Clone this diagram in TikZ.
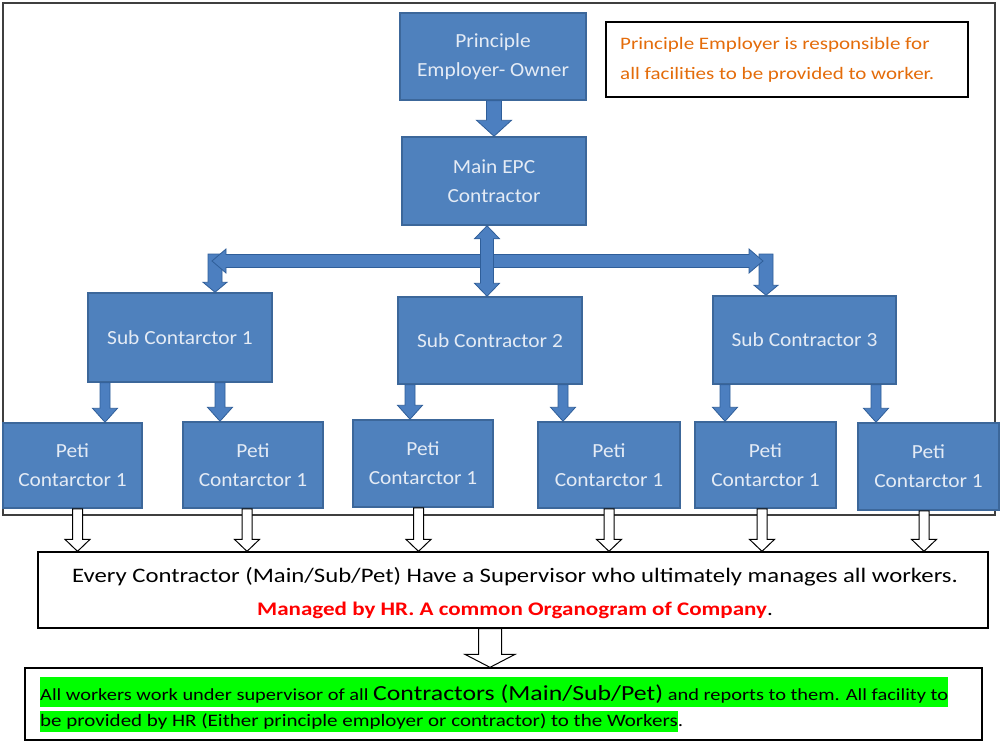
\documentclass[tikz,border=0pt]{standalone}
\usepackage{fontspec}
\setmainfont{Carlito}[FakeStretch=1.2]
\newfontfamily\boxfont{Carlito}[FakeStretch=1.07]
\usetikzlibrary{calc}
\definecolor{boxblue}{HTML}{4F81BD}
\definecolor{boxedge}{HTML}{3C679A}
\definecolor{boxtext}{HTML}{E4EBF5}
\definecolor{arrowblue}{HTML}{4C7FC0}
\definecolor{arrowedge}{HTML}{2F5E99}
\definecolor{noteorange}{HTML}{E46C0A}
\definecolor{framegray}{HTML}{3F3F3F}
\definecolor{hlgreen}{HTML}{00FF00}
\definecolor{hrred}{HTML}{FF0000}
\begin{document}
\begin{tikzpicture}[x=1pt,y=-1pt,
  bbox/.style={draw=boxedge, line width=1.5pt, fill=boxblue, text=boxtext, inner sep=0pt, align=center, font=\boxfont\fontsize{20}{29}\selectfont},
  plainbox/.style={draw=black, line width=1.3pt, fill=white, inner sep=0pt},
  barrow/.style={fill=arrowblue, draw=arrowedge, line width=0.8pt},
  warrow/.style={fill=white, draw=black, line width=1pt},
  vdown/.style n args={3}{to path={let \p1=(\tikztostart), \p2=(\tikztotarget) in
     (\x1-#1pt,\y1) -- (\x1+#1pt,\y1) -- (\x1+#1pt,\y2+#3pt) -- (\x1+#2pt,\y2+#3pt) -- (\x1,\y2)
     -- (\x1-#2pt,\y2+#3pt) -- (\x1-#1pt,\y2+#3pt) -- cycle}},
  vboth/.style n args={3}{to path={let \p1=(\tikztostart), \p2=(\tikztotarget) in
     (\x1,\y1) -- (\x1+#2pt,\y1-#3pt) -- (\x1+#1pt,\y1-#3pt) -- (\x1+#1pt,\y2+#3pt) -- (\x1+#2pt,\y2+#3pt)
     -- (\x1,\y2) -- (\x1-#2pt,\y2+#3pt) -- (\x1-#1pt,\y2+#3pt) -- (\x1-#1pt,\y1-#3pt) -- (\x1-#2pt,\y1-#3pt) -- cycle}},
  hboth/.style n args={3}{to path={let \p1=(\tikztostart), \p2=(\tikztotarget) in
     (\x1,\y1) -- (\x1+#3pt,\y1+#2pt) -- (\x1+#3pt,\y1+#1pt) -- (\x2-#3pt,\y1+#1pt) -- (\x2-#3pt,\y1+#2pt)
     -- (\x2,\y1) -- (\x2-#3pt,\y1-#2pt) -- (\x2-#3pt,\y1-#1pt) -- (\x1+#3pt,\y1-#1pt) -- (\x1+#3pt,\y1-#2pt) -- cycle}}
]
\useasboundingbox (0,0) rectangle (1000,744);
\fill[white] (0,0) rectangle (1000,744);

% outer frame
\draw[framegray, line width=2pt] (3,3) rectangle (995,515);

% blue boxes
\node[bbox, minimum width=186pt, minimum height=87pt] (pe) at (493,56.5) {Principle\\Employer- Owner};
\node[bbox, minimum width=184pt, minimum height=88pt] (epc) at (494,181) {Main EPC\\Contractor};
\node[bbox, minimum width=184pt, minimum height=89pt] (s1) at (180,337.5) {Sub Contarctor 1};
\node[bbox, minimum width=184pt, minimum height=87pt] (s2) at (490,340.5) {Sub Contractor 2};
\node[bbox, minimum width=183pt, minimum height=88pt] (s3) at (804.5,340) {Sub Contractor 3};
\node[bbox, minimum width=139pt, minimum height=85pt] (p1) at (72.5,465.5) {Peti\\Contarctor 1};
\node[bbox, minimum width=140pt, minimum height=86pt] (p2) at (253,465) {Peti\\Contarctor 1};
\node[bbox, minimum width=140pt, minimum height=87pt] (p3) at (423,463.5) {Peti\\Contarctor 1};
\node[bbox, minimum width=142pt, minimum height=86pt] (p4) at (609,465) {Peti\\Contarctor 1};
\node[bbox, minimum width=141pt, minimum height=86pt] (p5) at (765.5,465) {Peti\\Contarctor 1};
\node[bbox, minimum width=141pt, minimum height=87pt] (p6) at (928.5,466.5) {Peti\\Contarctor 1};

% note box
\node[plainbox, line width=1.2pt, minimum width=362pt, minimum height=75pt] (note) at (787,59.5) {};
\node[anchor=west, inner sep=0pt, text=noteorange, font=\fontsize{17.5}{30}\selectfont, align=left] (notetext) at (620,59.5)
  {Principle Employer is responsible for\\all facilities to be provided to worker.};

% blue arrows
\draw[barrow, vdown={7.5}{17.5}{16}] ([xshift=1pt]pe.south) to (epc.north);
\coordinate (dropL) at (215,254);
\coordinate (dropR) at (766,254);
\draw[barrow, vdown={7}{12}{10}] (dropL) to (s1.north);
\draw[barrow, vdown={7}{12}{10}] (dropR) to (s3.north);
\coordinate (barL) at (212,261);
\coordinate (barR) at (763,261);
\draw[barrow, hboth={6.5}{12}{14}] (barL) to (barR);
\draw[barrow, vboth={6.5}{12.5}{13}] ([xshift=-7pt]epc.south) to (s2.north);
\draw[barrow, vdown={5}{12.5}{14}] ([xshift=-75pt]s1.south) to (p1.north);
\draw[barrow, vdown={5}{12.5}{14}] ([xshift=40pt]s1.south) to (p2.north);
\draw[barrow, vdown={5}{12.5}{14}] ([xshift=-80pt]s2.south) to (p3.north);
\draw[barrow, vdown={5}{12.5}{14}] ([xshift=73pt]s2.south) to (p4.north);
\draw[barrow, vdown={5}{12.5}{14}] ([xshift=-79.5pt]s3.south) to (p5.north);
\draw[barrow, vdown={5}{12.5}{14}] ([xshift=71.5pt]s3.south) to (p6.north);

% lower boxes
\node[plainbox, minimum width=950pt, minimum height=76pt] (b1) at (513,590) {};
\node[inner sep=0pt, font=\fontsize{20.6}{25}\selectfont] (b1l1) at (515,577)
  {Every Contractor (Main/Sub/Pet) Have a Supervisor who ultimately manages all workers.};
\node[inner sep=0pt, font=\fontsize{19.2}{25}\selectfont] (b1l2) at (515,610)
  {\textcolor{hrred}{\bfseries Managed by HR. A common Organogram of Company}.};

\node[plainbox, minimum width=957pt, minimum height=72pt] (b2) at (503.5,704) {};
\setlength{\fboxsep}{0pt}
\node[anchor=west, inner sep=0pt, font=\fontsize{17}{20}\selectfont] (b2l1) at (40,692)
  {\colorbox{hlgreen}{\rule[-7pt]{0pt}{30pt}All workers work under supervisor of all {\fontsize{21.5}{24}\selectfont Contractors (Main/Sub/Pet)} and reports to them. All facility to}};
\node[anchor=west, inner sep=0pt, font=\fontsize{17.5}{20}\selectfont] (b2l2) at (40,721)
  {\colorbox{hlgreen}{\rule[-5pt]{0pt}{21pt}be provided by HR (Either principle employer or contractor) to the Workers}.};

% hollow arrows
\draw[warrow, vdown={5}{12.5}{12}] ([xshift=5pt]p1.south) to (b1.north);
\draw[warrow, vdown={5}{12.5}{12}] ([xshift=-6pt]p2.south) to (b1.north);
\draw[warrow, vdown={5}{12.5}{12}] ([xshift=-4.5pt]p3.south) to (b1.north);
\draw[warrow, vdown={5}{12.5}{12}] ([xshift=0pt]p4.south) to (b1.north);
\draw[warrow, vdown={5}{12.5}{12}] ([xshift=-3.5pt]p5.south) to (b1.north);
\draw[warrow, vdown={5}{12.5}{12}] ([xshift=-4.5pt]p6.south) to (b1.north);
\draw[warrow, vdown={11.5}{25}{13}] ([xshift=-23pt]b1.south) to (b2.north);
\end{tikzpicture}
\end{document}
